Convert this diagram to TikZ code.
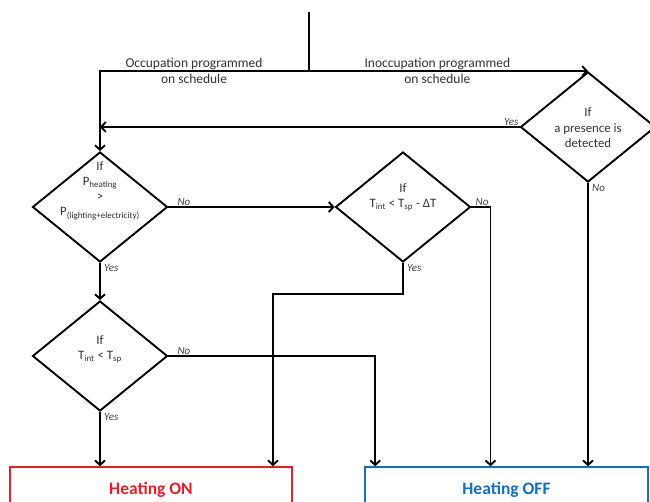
\documentclass[tikz,border=0pt]{standalone}
\usepackage{fontspec}
\setmainfont{Carlito}
\usepackage{tikz}
\usetikzlibrary{arrows.meta, shapes.geometric, calc}

\definecolor{onred}{RGB}{228,32,36}
\definecolor{offblue}{RGB}{20,110,190}

\begin{document}
\begin{tikzpicture}[x=1pt, y=1pt, >={Straight Barb[length=4.5pt,width=10pt]},
	flow/.style={line width=1.9pt, black},
	decision/.style={diamond, draw, line width=1.9pt, minimum width=135pt, minimum height=110pt, inner sep=0pt},
	dtext/.style={align=center, font=\fontsize{12.8}{15.5}\selectfont, text=black!80},
	answer/.style={font=\fontsize{11}{13}\selectfont\itshape, text=black!75, inner sep=1pt},
	schedule/.style={align=center, font=\fontsize{13.5}{16}\selectfont, text=black!80},
	outcome/.style={draw, line width=1.6pt, minimum width=282pt, minimum height=46pt, font=\fontsize{17.5}{20}\selectfont\bfseries}]
	
	% Frame
	\clip (0,0) rectangle (650,-502);
	
	% Entry and split
	\coordinate (start) at (309,-12);
	\coordinate (split) at (309,-71);
	
	% Decisions
	\node[decision] (presence) at (588,-127) {};
	\node[dtext] (presencetext) at ([yshift=-1pt]presence) {If\\a presence is\\detected};
	
	\node[decision] (pcomp) at (100,-207) {};
	\node[dtext, font=\fontsize{12.8}{15}\selectfont] (pcomptext) at ([yshift=16pt]pcomp) {If\\P\textsubscript{heating}\\>\\P\textsubscript{(lighting+electricity)}};
	
	\node[decision] (tlow) at (403,-207) {};
	\node[dtext] (tlowtext) at ([yshift=10pt]tlow) {If\\T\textsubscript{int} < T\textsubscript{sp} - ΔT};
	
	\node[decision] (tsp) at (100,-356) {};
	\node[dtext] (tsptext) at ([yshift=7pt]tsp) {If\\T\textsubscript{int} < T\textsubscript{sp}};
	
	% Outcomes
	\node[outcome, draw=onred, text=onred] (on) at (151,-490) {Heating ON};
	\node[outcome, draw=offblue, text=offblue, minimum width=283pt] (off) at (506.5,-490) {Heating OFF};
	
	% Schedule branches
	\coordinate (lcorner) at (split -| pcomp.north);
	\draw[flow] (start) -- (split);
	\draw[flow, ->] (split) -- (lcorner)
		node[schedule, pos=0.55] {Occupation programmed\\on schedule} -- (pcomp.north);
	\draw[flow, ->] (split) -- (presence.north)
		node[schedule, pos=0.46] {Inoccupation programmed\\on schedule};
	
	% Presence detection
	\draw[flow, ->] (presence.west) -- (presence.west -| pcomp.north);
	\node[answer, above left] at (presence.west) {Yes};
	\draw[flow, ->] (presence.south) -- (presence.south |- off.north);
	\node[answer, below right, xshift=3pt] at (presence.south) {No};
	
	% Power comparison
	\draw[flow, ->] (pcomp.east) -- (tlow.west);
	\node[answer, above right, xshift=8pt] at (pcomp.east) {No};
	\draw[flow, ->] (pcomp.south) -- (tsp.north);
	\node[answer, below right, xshift=3pt] at (pcomp.south) {Yes};
	
	% Lower threshold
	\coordinate (tlowno) at ($(tlow.east)+(19,0)$);
	\coordinate (jog) at (273,-294);
	\draw[flow, ->] (tlow.east) -- (tlowno) -- (tlowno |- off.north);
	\node[answer, above right, xshift=3pt] at (tlow.east) {No};
	\draw[flow, ->] (tlow.south) |- (jog) -- (jog |- on.north);
	\node[answer, below right, xshift=3pt] at (tlow.south) {Yes};
	
	% Setpoint
	\draw[flow, ->] (tsp.east) -| ([xshift=11pt]off.north west);
	\node[answer, above right, xshift=8pt] at (tsp.east) {No};
	\draw[flow, ->] (tsp.south) -- (tsp.south |- on.north);
	\node[answer, below right, xshift=3pt] at (tsp.south) {Yes};
	
\end{tikzpicture}
\end{document}
